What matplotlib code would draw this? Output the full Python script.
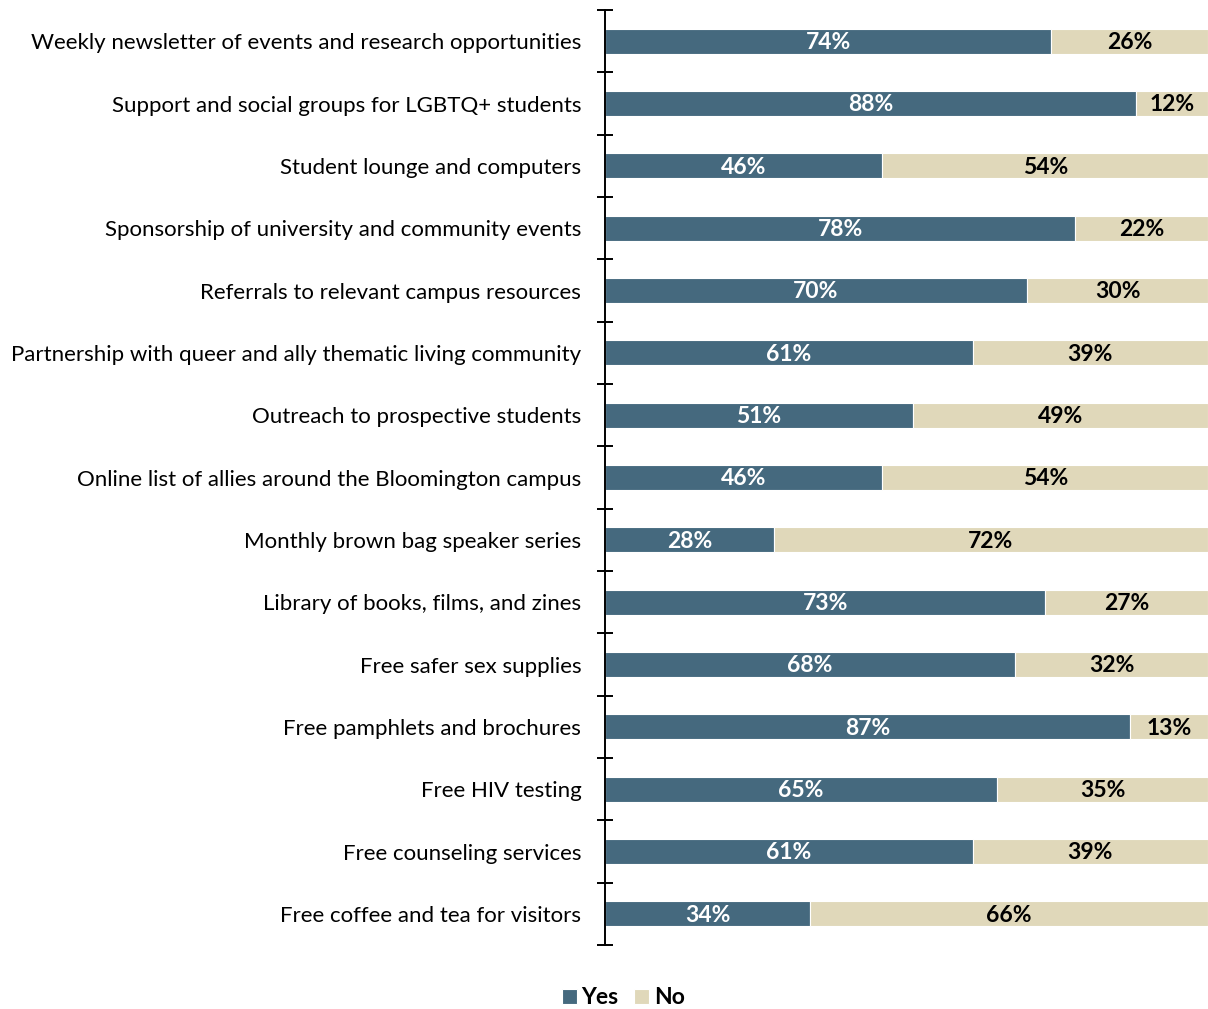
import matplotlib.pyplot as plt
import numpy as np

categories = [
    "Weekly newsletter of events and research opportunities",
    "Support and social groups for LGBTQ+ students",
    "Student lounge and computers",
    "Sponsorship of university and community events",
    "Referrals to relevant campus resources",
    "Partnership with queer and ally thematic living community",
    "Outreach to prospective students",
    "Online list of allies around the Bloomington campus",
    "Monthly brown bag speaker series",
    "Library of books, films, and zines",
    "Free safer sex supplies",
    "Free pamphlets and brochures",
    "Free HIV testing",
    "Free counseling services",
    "Free coffee and tea for visitors",
]
yes = [74, 88, 46, 78, 70, 61, 51, 46, 28, 73, 68, 87, 65, 61, 34]
no = [26, 12, 54, 22, 30, 39, 49, 54, 72, 27, 32, 13, 35, 39, 66]

yes_color = "#45697E"
no_color = "#E0D8BA"

plt.rcParams['font.family'] = ['Lato', 'DejaVu Sans']

fig = plt.figure(figsize=(12.08, 10.09), dpi=100)
ax = fig.add_axes([0.5008, 0.0634, 0.4992, 0.9266])

n = len(categories)
y = np.arange(n)

b1 = ax.barh(y, yes, height=0.4, color=yes_color, edgecolor='white', linewidth=0.8, label='Yes')
b2 = ax.barh(y, no, left=yes, height=0.4, color=no_color, edgecolor='white', linewidth=0.8, label='No')

for i in range(n):
    ax.text(yes[i] / 2, y[i] + 0.02, f"{yes[i]}%", ha='center', va='center',
            color='white', fontsize=16.5, fontweight='bold')
    ax.text(yes[i] + no[i] / 2, y[i] + 0.02, f"{no[i]}%", ha='center', va='center',
            color='black', fontsize=16.5, fontweight='bold')

ax.set_xlim(0, 100)
ax.set_ylim(n - 0.5, -0.5)

ax.set_yticks(y)
ax.set_yticklabels(categories, fontsize=16)
ax.tick_params(axis='y', which='major', length=0, pad=17)
ax.set_yticks(np.arange(n + 1) - 0.5, minor=True)
ax.tick_params(axis='y', which='minor', direction='inout', length=11.5, width=1.4)

ax.set_xticks([])
for s in ['top', 'right', 'bottom']:
    ax.spines[s].set_visible(False)
ax.spines['left'].set_linewidth(1.4)

fig.legend(handles=[b1, b2], loc='center', bbox_to_anchor=(0.516, 0.011), ncol=2,
           frameon=False, handlelength=0.65, handleheight=0.65, handletextpad=0.2,
           columnspacing=0.7, prop={'size': 16.5, 'weight': 'bold'})

fig.savefig('out.png', dpi=100)
